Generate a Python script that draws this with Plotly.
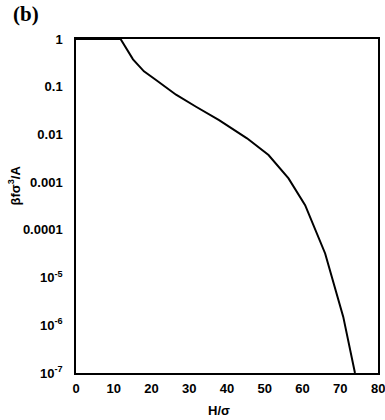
import plotly.graph_objects as go

H = [0, 5, 10, 11.8, 15.1, 18.0, 21.2, 26.5, 31.8, 37.9, 45.3, 51.0, 56.3, 60.7, 66.0, 70.8, 73.9]
beta_f = [1, 1, 1, 1, 0.375, 0.21, 0.138, 0.068, 0.038, 0.020, 0.0083, 0.0037, 0.0012,
          0.00033, 3.2e-5, 1.5e-6, 1e-7]

x_ticks = [0, 10, 20, 30, 40, 50, 60, 70, 80]
y_ticks = [1, 0.1, 0.01, 0.001, 0.0001, 1e-5, 1e-6, 1e-7]
y_tick_labels = ["1", "0.1", "0.01", "0.001", "0.0001",
                 "10<sup>-5</sup>", "10<sup>-6</sup>", "10<sup>-7</sup>"]

font_tick = dict(family="Liberation Sans, Arial", size=13, color="black", weight="bold")

fig = go.Figure()
fig.add_trace(go.Scatter(x=H, y=beta_f, mode="lines",
                         line=dict(color="black", width=2), showlegend=False))

fig.update_layout(
    width=385, height=420,
    margin=dict(l=76, r=5, t=39, b=47),
    paper_bgcolor="white", plot_bgcolor="white",
    xaxis=dict(range=[0, 80], tickvals=x_ticks[:-1], ticktext=[str(v) for v in x_ticks[:-1]],
               showgrid=False, zeroline=False, showline=True, linecolor="black",
               linewidth=1.5, mirror=True, ticks="", tickfont=font_tick,
               ticklabelstandoff=3),
    yaxis=dict(type="log", range=[-7, 0], tickvals=y_ticks, ticktext=y_tick_labels,
               showgrid=False, zeroline=False, showline=True, linecolor="black",
               linewidth=1.5, mirror=True, ticks="", tickfont=font_tick,
               ticklabelstandoff=9),
    annotations=[
        dict(text="<b>(b)</b>", x=26, y=14, showarrow=False,
             font=dict(family="Liberation Serif, DejaVu Serif", size=21, color="black")),
        dict(text="<b>βfσ<sup>3</sup>/A</b>", x=14, y=185, textangle=-90, showarrow=False,
             font=dict(family="Liberation Sans, Arial", size=13, color="black")),
        dict(text="<b>H/σ</b>", x=220, y=410, showarrow=False,
             font=dict(family="Liberation Sans, Arial", size=13, color="black")),
    ],
)

# convert pixel annotation positions to paper coords
pw = 385 - 76 - 5
ph = 420 - 39 - 47
for a in fig.layout.annotations:
    px, py = a.x, a.y
    a.x = (px - 76) / pw
    a.y = 1 - (py - 39) / ph
    a.xref = "paper"
    a.yref = "paper"
    a.xanchor = "center"
    a.yanchor = "middle"

# last x tick label (clipped at the right edge, as in the reference)
fig.add_annotation(text=str(x_ticks[-1]), x=x_ticks[-1], xref="x",
                   y=1 - (388 - 39) / ph, yref="paper", showarrow=False,
                   xanchor="center", yanchor="middle", font=font_tick)

fig.write_html("out.html", config={"displayModeBar": False},
               post_script="document.body.style.margin='0';document.body.style.overflow='hidden';")
